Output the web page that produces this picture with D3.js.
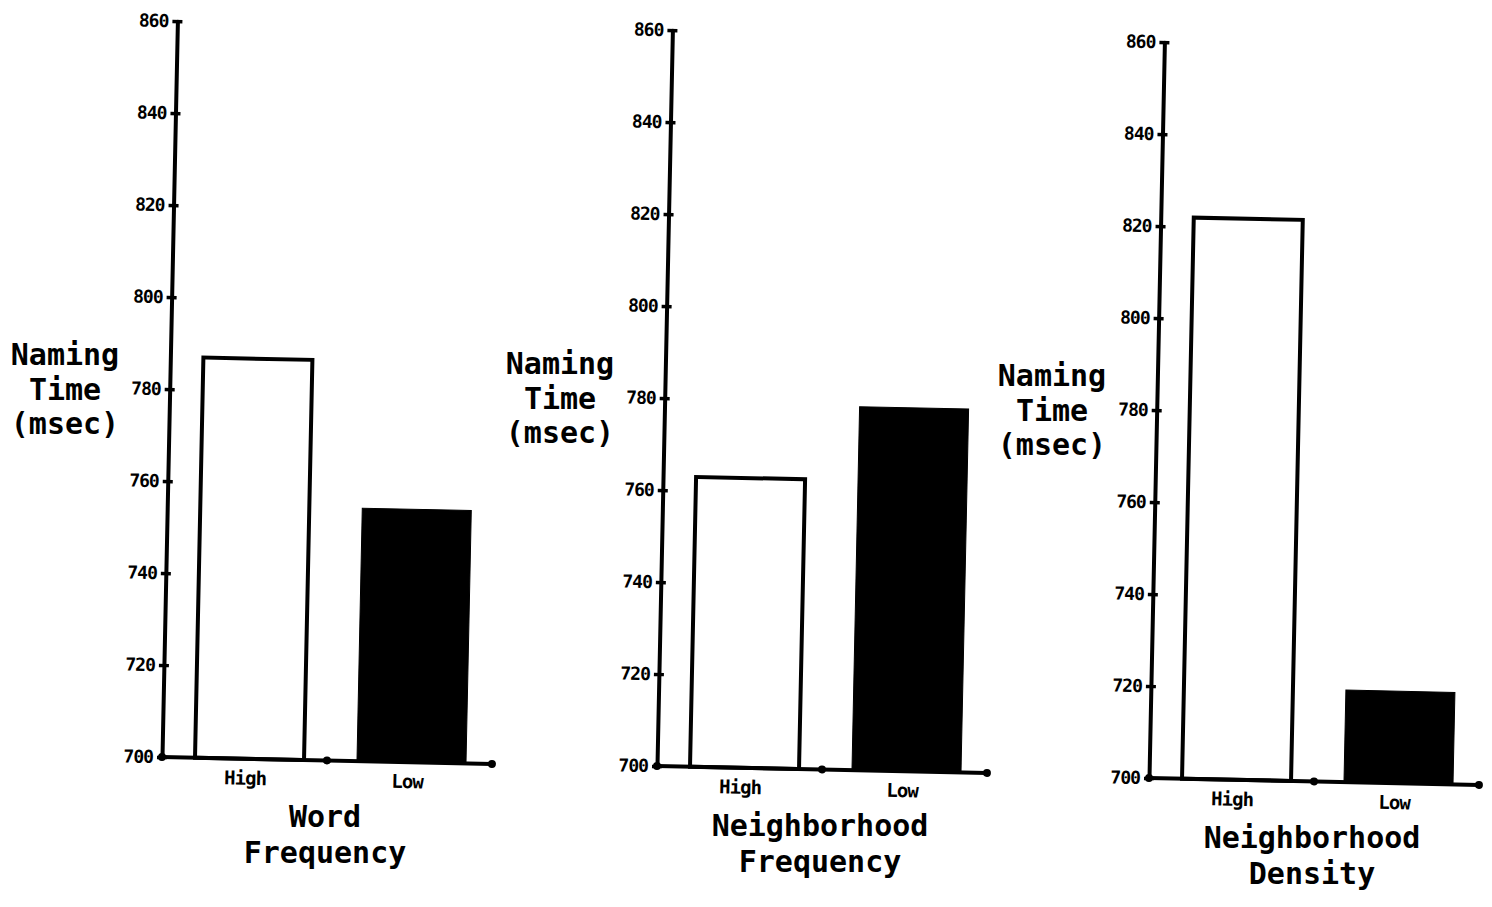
<!DOCTYPE html>
<html>
<head>
<meta charset="utf-8">
<script src="https://cdn.jsdelivr.net/npm/d3@7"></script>
<style>
  body { margin: 0; background: #fff; }
  svg { display: block; }
  text { font-family: "DejaVu Sans Mono", "Liberation Mono", monospace; font-weight: bold; fill: #000; }
</style>
</head>
<body>
<svg id="chart" width="1492" height="907"></svg>
<script>
// values (naming time, msec)
var categories = ["High", "Low"]
var highValues = [787, 763, 822]
var lowValues = [755, 779, 720]
var yTicks = [700, 720, 740, 760, 780, 800, 820, 840, 860]
var yTitle = ["Naming", "Time", "(msec)"]
var xTitles = [["Word", "Frequency"], ["Neighborhood", "Frequency"], ["Neighborhood", "Density"]]

// where each panel's axis corner sits on the page (the scan is slightly tilted)
var origins = [[162, 757], [657, 766], [1149, 778]]
var tilt = 1.2
var W = 330, H = 736

var svg = d3.select("#chart")

var y = d3.scaleLinear().domain([700, 860]).range([0, -H])
var xBar = d3.scaleBand().domain(categories).range([0, W])
  .paddingInner(0.327).paddingOuter(0.182).align(0.56)
var xSlot = d3.scaleBand().domain(categories).range([0, W]) // tick dots sit on slot edges

xTitles.forEach(function(title, i) {
  var o = origins[i]
  var panel = svg.append("g").attr("transform", "translate(" + o[0] + "," + o[1] + ")")
  var g = panel.append("g").attr("transform", "rotate(" + tilt + ")")
  var vals = [highValues[i], lowValues[i]]

  // bars first so the axis line runs over their bottoms
  g.selectAll("rect.bar")
    .data(categories)
    .enter().append("rect")
    .attr("class", "bar")
    .attr("x", function(d) { return xBar(d) })
    .attr("width", xBar.bandwidth())
    .attr("y", function(d, j) { return y(vals[j]) })
    .attr("height", function(d, j) { return -y(vals[j]) })
    .style("fill", function(d) { return d === "High" ? "#fff" : "#000" })
    .style("stroke", "#000")
    .style("stroke-width", function(d) { return d === "High" ? 4 : 1 })

  // y axis with small crossing tick marks
  var ya = g.append("g")
    .call(d3.axisLeft(y).tickValues(yTicks).tickSizeInner(5).tickSizeOuter(0).tickPadding(4))
  ya.select(".domain").style("stroke-width", 4).attr("stroke-linecap", "round")
  ya.selectAll(".tick line").attr("x1", 5).style("stroke-width", 3.5)
  ya.selectAll(".tick text").style("font-size", "18px").style("letter-spacing", "-1px")

  // x axis: plain line with dots at the slot edges
  g.append("line")
    .attr("x1", 0).attr("x2", W).attr("y1", 0).attr("y2", 0)
    .style("stroke", "#000").style("stroke-width", 4)
  var edges = [0, xSlot("Low"), W]
  g.selectAll("circle.xt")
    .data(edges)
    .enter().append("circle")
    .attr("class", "xt")
    .attr("cx", function(d) { return d })
    .attr("cy", 0)
    .attr("r", 4)

  g.selectAll("text.cat")
    .data(categories)
    .enter().append("text")
    .attr("class", "cat")
    .attr("x", function(d) { return xBar(d) + xBar.bandwidth() / 2 - 4 })
    .attr("y", 26)
    .attr("text-anchor", "middle")
    .style("font-size", "19px")
    .style("letter-spacing", "-1px")
    .text(function(d) { return d })

  // axis titles
  panel.selectAll("text.yt")
    .data(yTitle)
    .enter().append("text")
    .attr("class", "yt")
    .attr("x", -97)
    .attr("y", function(d, j) { return -392 + j * 34.5 })
    .attr("text-anchor", "middle")
    .style("font-size", "30px")
    .text(function(d) { return d })

  panel.selectAll("text.xtl")
    .data(title)
    .enter().append("text")
    .attr("class", "xtl")
    .attr("x", 163)
    .attr("y", function(d, j) { return 70 + j * 36 })
    .attr("text-anchor", "middle")
    .style("font-size", "30px")
    .text(function(d) { return d })
})
</script>
</body>
</html>
